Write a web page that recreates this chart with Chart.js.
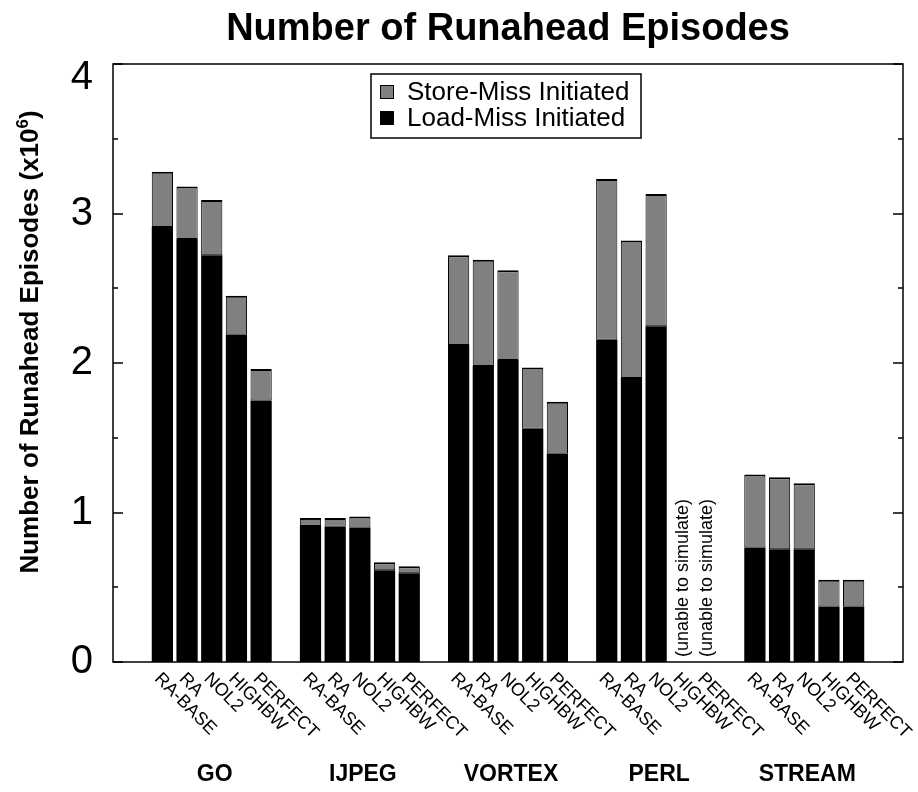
<!DOCTYPE html>
<html>
<head>
<meta charset="utf-8">
<script src="https://cdn.jsdelivr.net/npm/chart.js@4.4.1/dist/chart.umd.min.js"></script>
<style>
  html, body { margin: 0; padding: 0; background: #fff; }
</style>
</head>
<body>
<canvas id="runaheadChart" width="918" height="792"></canvas>
<script>
const FONT = '"Liberation Sans", Arial, Helvetica, sans-serif';

const benchmarks = ['GO', 'IJPEG', 'VORTEX', 'PERL', 'STREAM'];
const configs = ['RA-BASE', 'RA', 'NOL2', 'HIGHBW', 'PERFECT'];

// load-miss initiated runahead episodes (x10^6)
const loadGO = [2.91, 2.83, 2.72, 2.19, 1.75];
const loadIJPEG = [0.91, 0.905, 0.90, 0.614, 0.594];
const loadVORTEX = [2.12, 1.98, 2.02, 1.56, 1.395];
const loadPERL = [2.155, 1.90, 2.245, null, null];
const loadSTREAM = [0.766, 0.755, 0.755, 0.372, 0.372];

// store-miss initiated runahead episodes (x10^6), stacked on top
const storeGO = [0.37, 0.35, 0.37, 0.26, 0.21];
const storeIJPEG = [0.054, 0.059, 0.074, 0.054, 0.047];
const storeVORTEX = [0.60, 0.71, 0.60, 0.41, 0.345];
const storePERL = [1.075, 0.92, 0.885, null, null];
const storeSTREAM = [0.489, 0.481, 0.44, 0.179, 0.179];

const yTicks = [0, 1, 2, 3, 4];

const loadMiss = [loadGO, loadIJPEG, loadVORTEX, loadPERL, loadSTREAM];
const storeMiss = [storeGO, storeIJPEG, storeVORTEX, storePERL, storeSTREAM];

// every benchmark gets 5 bar slots plus one empty slot
const GROUP = configs.length + 1;
const slotOf = (i, j) => i * GROUP + j;

const loadPoints = [];
const storePoints = [];
benchmarks.forEach((b, i) => {
  configs.forEach((c, j) => {
    loadPoints.push({ x: slotOf(i, j), y: loadMiss[i][j] });
    storePoints.push({ x: slotOf(i, j), y: storeMiss[i][j] });
  });
});

const decorations = {
  id: 'decorations',
  afterDraw(chart) {
    const { ctx, chartArea: area, scales: { x, y } } = chart;
    ctx.save();

    // frame + inward ticks on both sides
    ctx.strokeStyle = '#000';
    ctx.lineWidth = 1.5;
    ctx.strokeRect(area.left, area.top, area.right - area.left, area.bottom - area.top);
    for (let v = y.min; v <= y.max; v += 0.5) {
      const py = Math.round(y.getPixelForValue(v));
      const len = yTicks.includes(v) ? 10 : 5;
      ctx.beginPath();
      ctx.moveTo(area.left, py); ctx.lineTo(area.left + len, py);
      ctx.moveTo(area.right, py); ctx.lineTo(area.right - len, py);
      ctx.stroke();
    }

    ctx.fillStyle = '#000';

    // y tick labels (top one kept inside the frame height)
    ctx.font = '40px ' + FONT;
    ctx.textAlign = 'right';
    ctx.textBaseline = 'middle';
    yTicks.forEach((v) => {
      const py = Math.max(y.getPixelForValue(v), area.top + 14);
      ctx.fillText(String(v), area.left - 20, py);
    });

    // config labels, slanted downwards
    ctx.font = '18px ' + FONT;
    ctx.textAlign = 'left';
    benchmarks.forEach((b, i) => {
      configs.forEach((c, j) => {
        const px = x.getPixelForValue(slotOf(i, j));
        ctx.save();
        ctx.translate(px - 5, area.bottom + 14);
        ctx.rotate(Math.PI / 4);
        ctx.fillText(c, 0, 0);
        ctx.restore();
      });
    });

    // missing runs
    ctx.font = '18px ' + FONT;
    benchmarks.forEach((b, i) => {
      configs.forEach((c, j) => {
        if (loadMiss[i][j] !== null) return;
        const px = x.getPixelForValue(slotOf(i, j));
        ctx.save();
        ctx.translate(px + 2, area.bottom - 5);
        ctx.rotate(-Math.PI / 2);
        ctx.fillText('(unable to simulate)', 0, 0);
        ctx.restore();
      });
    });

    // benchmark names
    ctx.font = 'bold 23px ' + FONT;
    ctx.textAlign = 'center';
    benchmarks.forEach((b, i) => {
      ctx.fillText(b, x.getPixelForValue(slotOf(i, 2)) + 3, 775);
    });

    // y axis title with superscript
    const main = 'Number of Runahead Episodes (x10';
    ctx.save();
    ctx.translate(31, 342);
    ctx.rotate(-Math.PI / 2);
    ctx.font = 'bold 26px ' + FONT;
    const w1 = ctx.measureText(main).width;
    const w3 = ctx.measureText(')').width;
    ctx.font = 'bold 17px ' + FONT;
    const w2 = ctx.measureText('6').width;
    const tx = -(w1 + w2 + w3) / 2;
    ctx.textAlign = 'left';
    ctx.font = 'bold 26px ' + FONT;
    ctx.fillText(main, tx, 0);
    ctx.font = 'bold 17px ' + FONT;
    ctx.fillText('6', tx + w1, -8);
    ctx.font = 'bold 26px ' + FONT;
    ctx.fillText(')', tx + w1 + w2, 0);
    ctx.restore();

    // legend inside the plot
    ctx.lineWidth = 1.5;
    ctx.strokeRect(371, 74, 270, 64);
    ctx.font = '26px ' + FONT;
    ctx.textAlign = 'left';
    const entries = chart.data.datasets.slice().reverse();
    entries.forEach((ds, k) => {
      const cy = 92 + k * 26;
      ctx.fillStyle = ds.backgroundColor;
      ctx.fillRect(380, cy - 7, 14, 14);
      ctx.lineWidth = 1;
      ctx.strokeRect(380.5, cy - 6.5, 13, 13);
      ctx.fillStyle = '#000';
      ctx.fillText(ds.label, 407, cy + 1);
    });

    ctx.restore();
  }
};

new Chart(document.getElementById('runaheadChart'), {
  type: 'bar',
  data: {
    datasets: [
      {
        label: 'Load-Miss Initiated',
        data: loadPoints,
        stack: 'runahead',
        backgroundColor: '#000000',
        borderColor: '#000000',
        borderWidth: 0
      },
      {
        label: 'Store-Miss Initiated',
        data: storePoints,
        stack: 'runahead',
        backgroundColor: '#808080',
        borderColor: '#000000',
        borderWidth: { top: 2, left: 1, right: 1, bottom: 1 },
        borderSkipped: false
      }
    ]
  },
  options: {
    responsive: false,
    animation: false,
    devicePixelRatio: 1,
    layout: { padding: { left: 0, right: 15, top: 0, bottom: 0 } },
    datasets: {
      bar: { barPercentage: 0.86, categoryPercentage: 1.0 }
    },
    plugins: {
      legend: { display: false },
      tooltip: { enabled: false },
      title: {
        display: true,
        fullSize: false,
        text: 'Number of Runahead Episodes',
        color: '#000',
        font: { family: FONT, size: 38, weight: 'bold' },
        padding: { top: 7, bottom: 11.4 }
      }
    },
    scales: {
      x: {
        type: 'linear',
        stacked: true,
        offset: false,
        min: -2,
        max: benchmarks.length * GROUP,
        grid: { display: false, drawTicks: false },
        border: { display: false },
        ticks: { display: false },
        afterFit: (scale) => { scale.height = 130; }
      },
      y: {
        stacked: true,
        min: 0,
        max: 4,
        grid: { display: false, drawTicks: false },
        border: { display: false },
        ticks: { display: false },
        afterFit: (scale) => { scale.width = 113; }
      }
    }
  },
  plugins: [decorations]
});
</script>
</body>
</html>
